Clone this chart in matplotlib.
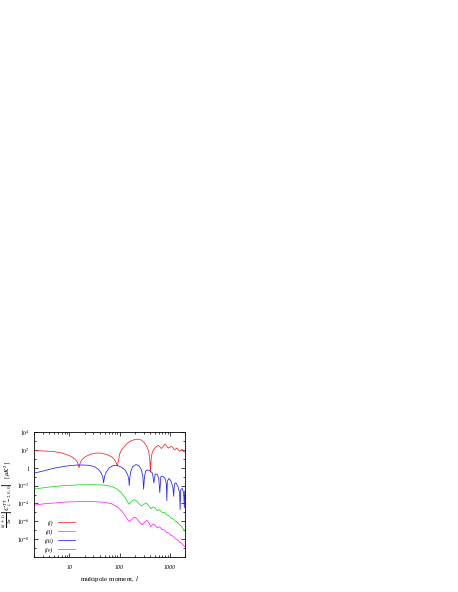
import matplotlib
matplotlib.use("Agg")
import matplotlib.pyplot as plt
import numpy as np
from matplotlib.ticker import FixedLocator, NullFormatter, LogLocator

plt.rcParams['mathtext.fontset'] = 'stix'
plt.rcParams['font.family'] = ['Liberation Serif', 'DejaVu Serif']

# ---- data (multipole l, log10 of value) ----
red_l = [2, 3, 5, 7, 9, 11, 13, 14.5, 15.5, 16.5, 18, 21, 26, 33, 40, 50, 60, 70, 78, 85, 90,
         95, 100, 110, 125, 140, 160, 190, 230, 270, 310, 350, 380, 400, 410, 420, 440, 470,
         520, 590, 680, 800, 930, 1090, 1230, 1380, 1550, 1730, 1900, 2000]
red_log10 = [1.90, 1.88, 1.80, 1.65, 1.45, 1.25, 0.95, 0.6, 0.0, 0.6, 0.95, 1.25, 1.5, 1.62, 1.65,
             1.55, 1.4, 1.2, 0.95, 0.6, 0.2,
             0.8, 1.55, 2.0, 2.4, 2.7, 2.95, 3.12, 3.2, 3.1, 2.8, 2.35, 1.8, 0.8, -0.5, 0.8, 1.6, 2.0,
             2.3, 2.5, 2.15, 2.65, 2.2, 2.4, 2.0, 2.2, 1.85, 2.05, 1.8, 1.75]

blue_l = [2, 3, 5, 7, 9, 14, 20, 26, 32, 38, 43, 46, 48, 50, 54, 62, 75, 90, 110, 130, 145, 152,
          155, 158, 165, 180, 210, 240, 270, 290, 300, 312, 330, 360, 400, 450, 480, 510, 560,
          600, 630, 660, 720, 800, 850, 870, 890, 960, 1050, 1150, 1190, 1230, 1320, 1450,
          1560, 1600, 1640, 1750, 1880, 1940, 1980, 2000]
blue_log10 = [-0.6, -0.37, -0.05, 0.1, 0.2, 0.3, 0.3, 0.25, 0.1, -0.2, -0.6, -1.0, -1.7, -1.0,
              -0.5, 0.0, 0.25, 0.25, 0.05, -0.3, -0.8, -1.3,
              -2.0, -1.3, -0.5, 0.1, 0.35, 0.25, -0.2, -1.0, -2.4, -1.0, -0.35, -0.25, -0.35, -0.6,
              -1.7, -0.7, -0.75,
              -1.2, -2.8, -1.0, -0.95, -1.2, -1.8, -3.7, -1.5, -1.2, -1.5, -2.2, -3.2, -1.8, -1.7,
              -2.1, -2.8, -4.7, -2.5, -2.3, -2.8, -4.5, -2.6, -2.6]

green_l = [2, 3, 5, 8, 15, 30, 50, 70, 90, 110, 130, 145, 155, 170, 190, 210, 240, 270, 300, 340,
           380, 420, 460, 500, 560, 620, 700, 780, 860, 950, 1050, 1150, 1280, 1400, 1550, 1700,
           1850, 2000]
green_log10 = [-2.4, -2.25, -2.1, -2.0, -1.92, -1.9, -1.95, -2.1, -2.4, -2.85, -3.4, -3.85, -4.1,
               -3.8, -3.6, -3.65, -4.0, -4.3, -4.1, -3.95, -4.25, -4.6, -4.4, -4.45, -4.8, -4.7,
               -5.0, -5.0, -5.3, -5.35, -5.65, -5.7, -6.0, -6.1, -6.4, -6.55, -6.85, -7.1]

magenta_l = [2, 3, 5, 8, 15, 30, 50, 70, 90, 110, 130, 145, 160, 175, 195, 215, 245, 280, 310,
             350, 385, 415, 460, 500, 560, 620, 700, 780, 860, 950, 1050, 1150, 1280, 1400, 1550,
             1700, 1850, 2000]
magenta_log10 = [-4.2, -4.05, -3.95, -3.85, -3.8, -3.8, -3.87, -4.05, -4.4, -4.85, -5.4, -5.85,
                 -6.0, -5.75, -5.55, -5.65, -6.05, -6.4, -6.15, -5.9, -6.2, -6.6, -6.3, -6.4,
                 -6.75, -6.6, -6.95, -6.95, -7.25, -7.3, -7.6, -7.65, -7.95, -8.05, -8.3, -8.45,
                 -8.7, -8.85]

series_labels = ['(i)', '(ii)', '(iii)', '(iv)']
series_colors = ['#ff2020', '#10e010', '#2020ff', '#ff20ff']

xticks = [10, 100, 1000]
xtick_labels = ['10', '100', '1000']
yticks = [1e4, 1e2, 1, 1e-2, 1e-4, 1e-6, 1e-8]
ytick_labels = [r'$\mathit{10^{4}}$', r'$\mathit{10^{2}}$', r'$\mathit{1}$',
                r'$\mathit{10^{-2}}$', r'$\mathit{10^{-4}}$', r'$\mathit{10^{-6}}$',
                r'$\mathit{10^{-8}}$']

# ---- figure ----
W, H = 458, 592
fig = plt.figure(figsize=(W / 100, H / 100), dpi=100)
ax_l, ax_r, ax_t, ax_b = 34.3, 185.0, 432.0, 557.0
ax = fig.add_axes([ax_l / W, 1 - ax_b / H, (ax_r - ax_l) / W, (ax_b - ax_t) / H])

lw = 0.55
handles = []
for lx, ly, c, lab in zip([red_l, green_l, blue_l, magenta_l],
                          [red_log10, green_log10, blue_log10, magenta_log10],
                          series_colors, series_labels):
    ln, = ax.plot(lx, 10.0 ** np.array(ly), color=c, lw=lw, label=lab)
    handles.append(ln)

ax.set_xscale('log')
ax.set_yscale('log')
ax.set_xlim(2, 2000)
ax.set_ylim(1e-10, 1e4)

ax.xaxis.set_major_locator(FixedLocator(xticks))
ax.set_xticklabels(xtick_labels, fontsize=4.2, style='italic')
ax.xaxis.set_minor_locator(LogLocator(base=10, subs=np.arange(2, 10)))
ax.xaxis.set_minor_formatter(NullFormatter())
ax.yaxis.set_major_locator(FixedLocator(yticks))
ax.set_yticklabels(ytick_labels, fontsize=4.2)
ax.yaxis.set_minor_locator(FixedLocator([1e3, 1e1, 1e-1, 1e-3, 1e-5, 1e-7, 1e-9]))
ax.yaxis.set_minor_formatter(NullFormatter())

ax.tick_params(which='both', direction='in', top=True, right=True, width=0.5)
ax.tick_params(which='major', length=3)
ax.tick_params(which='minor', length=1.6)
ax.tick_params(axis='x', which='major', pad=6)
ax.tick_params(axis='y', which='major', pad=3)
for s in ax.spines.values():
    s.set_linewidth(0.6)

ax.set_xlabel(r'multipole moment, $\mathit{l}$', fontsize=5)
ax.xaxis.set_label_coords(0.5, -0.135)
ax.set_ylabel(r'$\frac{l(l+1)}{2\pi}\,\left|C^{TT}_{l,-2,0,0}\right|\quad[\mu K^2]$', fontsize=5)
ax.yaxis.set_label_coords(-0.125, 0.5)

leg = ax.legend(handles, series_labels,
                markerfirst=False, frameon=False, fontsize=4.2,
                loc='upper left', bbox_to_anchor=(0.04, 0.33),
                handlelength=3.0, handletextpad=0.8, labelspacing=0.55, borderpad=0.2)
for t in leg.get_texts():
    t.set_style('italic')

fig.savefig('out.png', dpi=100)
